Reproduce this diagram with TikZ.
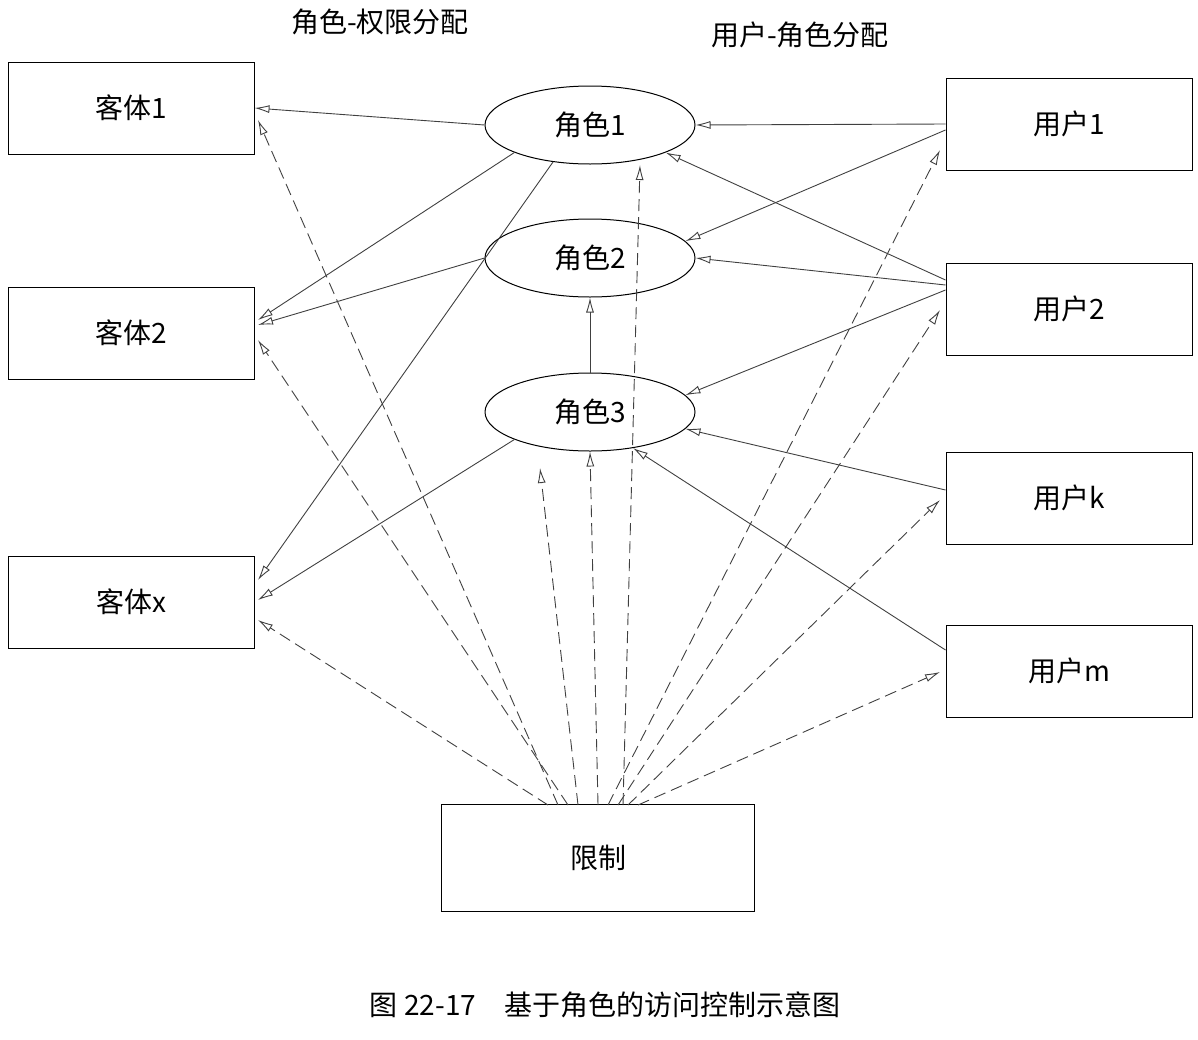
\documentclass[tikz,border=0pt]{standalone}
\usepackage{fontspec}
\newfontfamily\cjk{Noto Sans CJK SC}
\usetikzlibrary{arrows.meta,shapes.geometric}
\begin{document}
\begin{tikzpicture}[x=1pt,y=-1pt,
  font=\cjk\fontsize{28}{32}\selectfont,
  box/.style={draw,line width=1pt,minimum width=246pt,minimum height=92pt,inner sep=0pt},
  role/.style={draw,line width=1pt,ellipse,minimum width=210pt,minimum height=78pt,inner sep=0pt},
  sl/.style={draw=black!75,line width=0.9pt,-{Latex[open,length=15pt,width=8pt]}},
  dl/.style={sl,dash pattern=on 12pt off 6pt}]
\useasboundingbox (0,0) rectangle (1198,1039);
\node[box] (o1) at (131,108) {客体1};
\node[box] (o2) at (131,333) {客体2};
\node[box] (ox) at (131,602) {客体x};
\node[role] (r1) at (590,125) {角色1};
\node[role] (r2) at (590,258) {角色2};
\node[role] (r3) at (590,412) {角色3};
\node[box] (u1) at (1069,124) {用户1};
\node[box] (u2) at (1069,309) {用户2};
\node[box] (uk) at (1069,498) {用户k};
\node[box] (um) at (1069,671) {用户m};
\node[box,minimum width=313pt,minimum height=107pt] (c) at (598,858) {限制};
\node (t1) at (380,22) {角色-权限分配};
\node (t2) at (800,35) {用户-角色分配};
\node (cap) at (605,1005) {图 22-17\quad 基于角色的访问控制示意图};
\coordinate (cs) at (598,805);
% solid
\draw[sl] (r1.west) -- (o1.east |- 0,108);
\draw[sl] (r1.200) -- (258,320);
\draw[sl] (r1.225) -- (258,580);
\draw[sl] (r2.west) -- (258,325);
\draw[sl] (r3.200) -- (258,600);
\draw[sl] (r3.north) -- (r2.south);
\draw[sl] (u1.west) -- (r1.east);
\draw[sl] (u1.west |- 0,130) -- (r2.10);
\draw[sl] (u2.west |- 0,280) -- (r1.340);
\draw[sl] (u2.west |- 0,285) -- (r2.east);
\draw[sl] (u2.west |- 0,290) -- (r3.10);
\draw[sl] (uk.west |- 0,490) -- (r3.350);
\draw[sl] (um.west |- 0,650) -- (r3.320);
% dashed
\draw[dl] (cs) ++(-40,0) -- (258,120);
\draw[dl] (cs) ++(-30,0) -- (258,340);
\draw[dl] (cs) ++(-50,0) -- (258,620);
\draw[dl] (cs) ++(-20,0) -- (540,468);
\draw[dl] (cs) ++(0,0) -- (r3.south);
\draw[dl] (cs) ++(25,0) -- (640,165);
\draw[dl] (cs) ++(10,0) -- (940,150);
\draw[dl] (cs) ++(20,0) -- (940,310);
\draw[dl] (cs) ++(30,0) -- (940,500);
\draw[dl] (cs) ++(40,0) -- (940,672);
\end{tikzpicture}
\end{document}
